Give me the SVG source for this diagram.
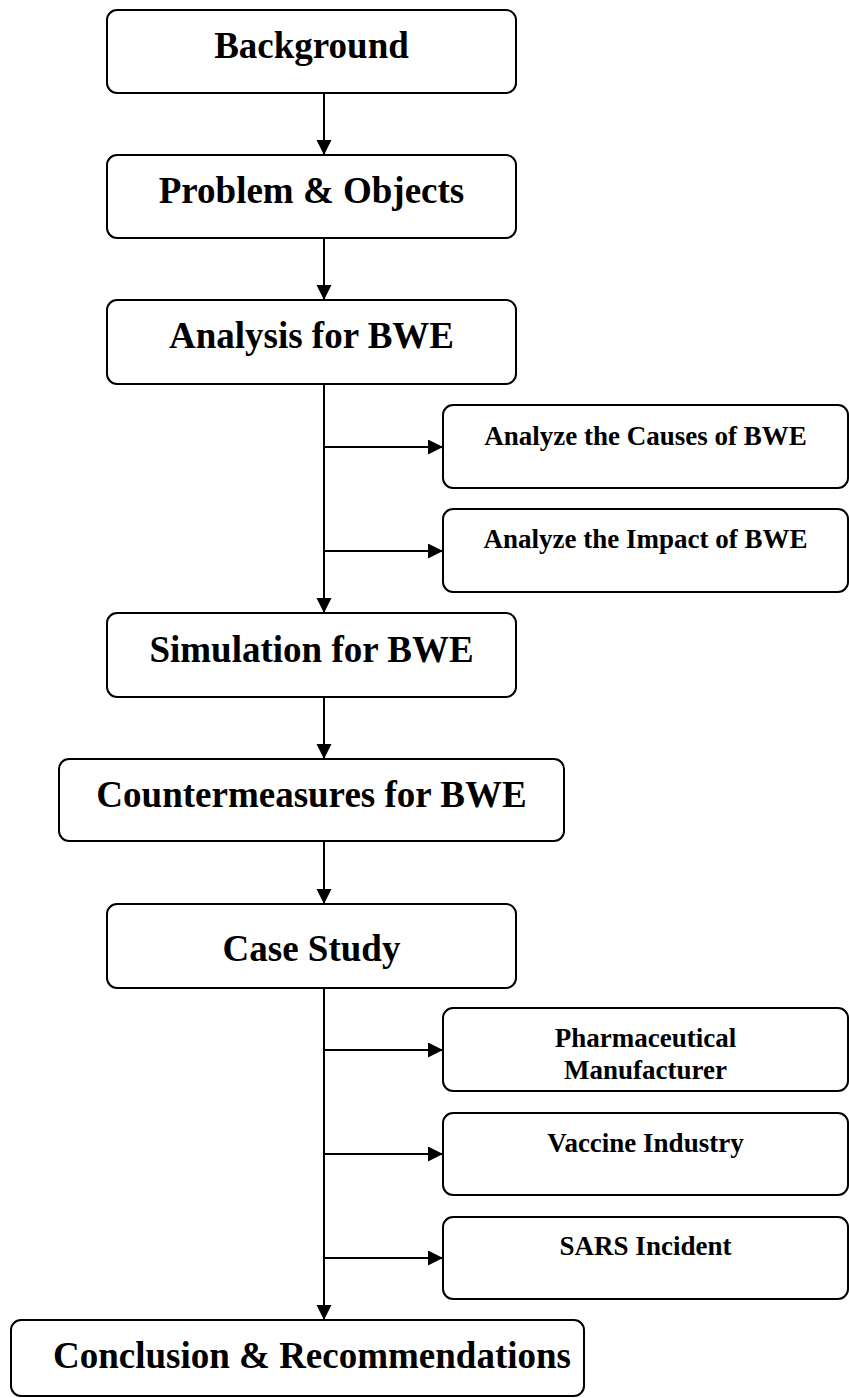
<svg xmlns="http://www.w3.org/2000/svg" width="849" height="1398" viewBox="0 0 849 1398">
  <style>
    .box { fill: #ffffff; stroke: #000000; stroke-width: 2; }
    .big { font-family: "Liberation Serif", "Times New Roman", serif; font-weight: bold; font-size: 37px; fill: #000000; text-anchor: middle; }
    .small { font-family: "Liberation Serif", "Times New Roman", serif; font-weight: bold; font-size: 27px; fill: #000000; text-anchor: middle; }
    .link { fill: none; stroke: #000000; stroke-width: 2; }
  </style>
  <defs>
    <marker id="arrow" markerUnits="userSpaceOnUse" markerWidth="16" markerHeight="16" refX="15" refY="7.5" orient="auto">
      <path d="M0,0 L15,7.5 L0,15 Z" fill="#000000"/>
    </marker>
  </defs>
  <rect x="0" y="0" width="849" height="1398" fill="#ffffff"/>

  <!-- connectors -->
  <g id="connectors">
    <line class="link" x1="324" y1="93" x2="324" y2="155" marker-end="url(#arrow)"/>
    <line class="link" x1="324" y1="238" x2="324" y2="300" marker-end="url(#arrow)"/>
    <line class="link" x1="324" y1="384" x2="324" y2="613" marker-end="url(#arrow)"/>
    <line class="link" x1="324" y1="447" x2="443" y2="447" marker-end="url(#arrow)"/>
    <line class="link" x1="324" y1="551" x2="443" y2="551" marker-end="url(#arrow)"/>
    <line class="link" x1="324" y1="697" x2="324" y2="759" marker-end="url(#arrow)"/>
    <line class="link" x1="324" y1="841" x2="324" y2="904" marker-end="url(#arrow)"/>
    <line class="link" x1="324" y1="988" x2="324" y2="1320" marker-end="url(#arrow)"/>
    <line class="link" x1="324" y1="1050" x2="443" y2="1050" marker-end="url(#arrow)"/>
    <line class="link" x1="324" y1="1154" x2="443" y2="1154" marker-end="url(#arrow)"/>
    <line class="link" x1="324" y1="1258" x2="443" y2="1258" marker-end="url(#arrow)"/>
  </g>

  <!-- main flow -->
  <g id="background">
    <rect class="box" x="107" y="10" width="409" height="83" rx="10"/>
    <text class="big" x="311.5" y="58">Background</text>
  </g>
  <g id="problem">
    <rect class="box" x="107" y="155" width="409" height="83" rx="10"/>
    <text class="big" x="311.5" y="203">Problem &amp; Objects</text>
  </g>
  <g id="analysis">
    <rect class="box" x="107" y="300" width="409" height="84" rx="10"/>
    <text class="big" x="311.5" y="348">Analysis for BWE</text>
  </g>
  <g id="simulation">
    <rect class="box" x="107" y="613" width="409" height="84" rx="10"/>
    <text class="big" x="311.5" y="662">Simulation for BWE</text>
  </g>
  <g id="countermeasures">
    <rect class="box" x="59" y="759" width="505" height="82" rx="10"/>
    <text class="big" x="311.5" y="807">Countermeasures for BWE</text>
  </g>
  <g id="case-study">
    <rect class="box" x="107" y="904" width="409" height="84" rx="10"/>
    <text class="big" x="311.5" y="961">Case Study</text>
  </g>
  <g id="conclusion">
    <rect class="box" x="11" y="1320" width="573" height="76" rx="10"/>
    <text class="big" x="312" y="1368">Conclusion &amp; Recommendations</text>
  </g>

  <!-- branch boxes -->
  <g id="causes">
    <rect class="box" x="443" y="405" width="405" height="83" rx="10"/>
    <text class="small" x="645.5" y="445">Analyze the Causes of BWE</text>
  </g>
  <g id="impact">
    <rect class="box" x="443" y="509" width="405" height="83" rx="10"/>
    <text class="small" x="645.5" y="548">Analyze the Impact of BWE</text>
  </g>
  <g id="pharmaceutical">
    <rect class="box" x="443" y="1008" width="405" height="83" rx="10"/>
    <text class="small" x="645.5" y="1047">Pharmaceutical</text>
    <text class="small" x="645.5" y="1079">Manufacturer</text>
  </g>
  <g id="vaccine">
    <rect class="box" x="443" y="1113" width="405" height="82" rx="10"/>
    <text class="small" x="645.5" y="1152">Vaccine Industry</text>
  </g>
  <g id="sars">
    <rect class="box" x="443" y="1217" width="405" height="82" rx="10"/>
    <text class="small" x="645.5" y="1255">SARS Incident</text>
  </g>
</svg>
